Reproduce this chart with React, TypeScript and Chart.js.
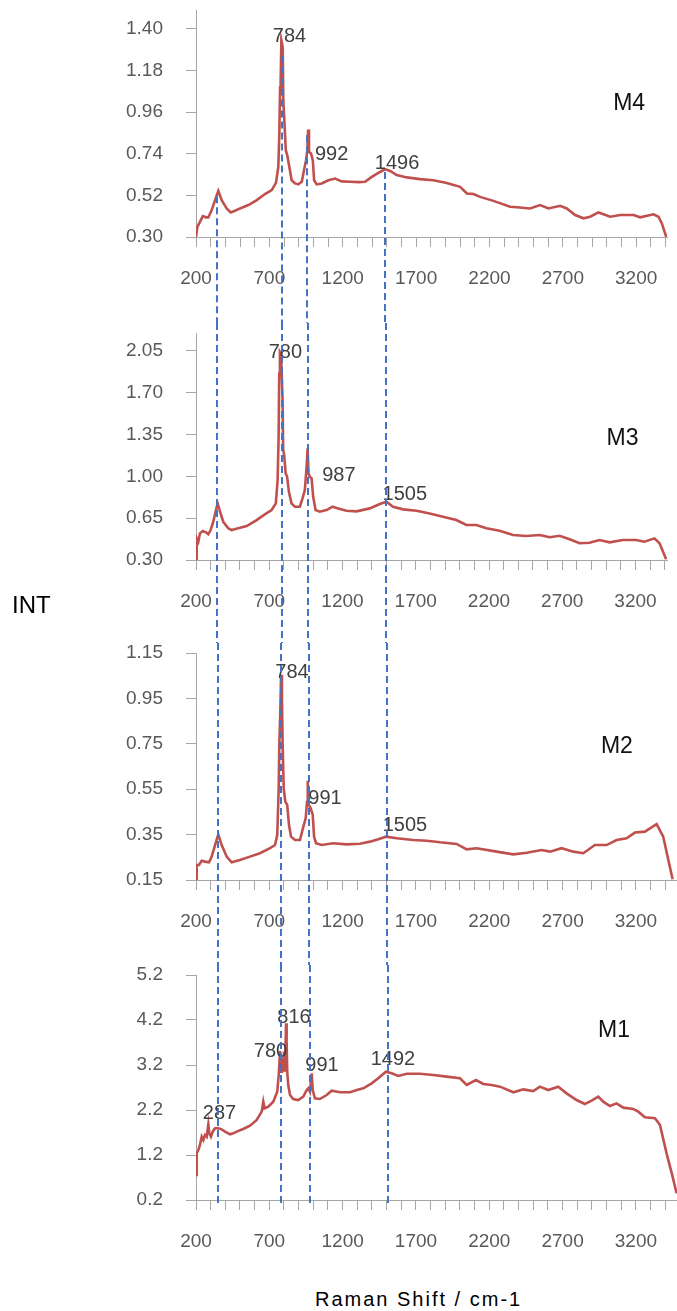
import { useEffect, useRef } from 'react';
import { Chart, registerables } from 'chart.js';

Chart.register(...registerables);

// ---------------- data ----------------
const xTickFirst = 200;
const xTickLast = 3400;
const xTickStep = 100;
const xTickLabels = ['200', '700', '1200', '1700', '2200', '2700', '3200'];

// M4
const m4Shift = [200, 209, 222, 246, 268, 284, 307, 330, 352, 375, 409, 437, 466, 500, 557, 614, 670, 716, 745, 761, 768, 773, 777, 782, 791, 795, 802, 812, 822, 836, 852, 875, 897, 921, 936, 950, 959, 964, 970, 984, 996, 1005, 1023, 1057, 1102, 1148, 1193, 1250, 1307, 1352, 1398, 1443, 1489, 1523, 1568, 1637, 1727, 1818, 1909, 2000, 2046, 2091, 2136, 2227, 2341, 2387, 2477, 2545, 2602, 2682, 2727, 2784, 2841, 2886, 2943, 3023, 3091, 3182, 3227, 3318, 3352, 3375, 3405];
const m4Int = [0.30, 0.354, 0.372, 0.41, 0.404, 0.404, 0.442, 0.495, 0.544, 0.495, 0.451, 0.43, 0.439, 0.451, 0.469, 0.495, 0.527, 0.548, 0.586, 0.671, 0.847, 1.092, 1.128, 1.339, 1.303, 1.022, 0.917, 0.759, 0.732, 0.671, 0.60, 0.583, 0.578, 0.592, 0.653, 0.706, 0.759, 0.868, 0.75, 0.741, 0.706, 0.60, 0.578, 0.583, 0.60, 0.609, 0.594, 0.592, 0.59, 0.592, 0.618, 0.639, 0.658, 0.649, 0.627, 0.615, 0.606, 0.60, 0.586, 0.565, 0.53, 0.527, 0.512, 0.491, 0.46, 0.457, 0.451, 0.469, 0.451, 0.465, 0.451, 0.416, 0.399, 0.407, 0.43, 0.407, 0.416, 0.416, 0.404, 0.42, 0.407, 0.372, 0.30];
const m4YTicks = ['0.30', '0.52', '0.74', '0.96', '1.18', '1.40'];
const m4YRange = [0.30, 1.50];
const m4XMax = 3410;
const m4PeakText = ['784', '992', '1496'];
const m4PeakX = [837, 1124, 1570];
const m4PeakY = [1.36, 0.735, 0.69];
const m4Name = 'M4';
const m4NameAt = [3152, 1.006];
const m4Guides = [341, 788, 955, 1487];
const m4GuideFrom = [0.516, 1.26, 0.838, 0.644];

// M3
const m3Shift = [200, 205, 216, 227, 246, 268, 284, 300, 318, 336, 348, 364, 386, 420, 443, 488, 546, 614, 670, 716, 745, 757, 764, 768, 773, 780, 786, 791, 795, 802, 812, 822, 834, 852, 875, 909, 927, 943, 955, 962, 968, 977, 989, 1000, 1016, 1045, 1091, 1132, 1170, 1227, 1296, 1386, 1455, 1500, 1545, 1614, 1705, 1795, 1886, 1977, 2046, 2114, 2182, 2273, 2364, 2455, 2545, 2614, 2682, 2750, 2818, 2886, 2955, 3023, 3113, 3205, 3261, 3330, 3364, 3409];
const m3Int = [0.30, 0.481, 0.453, 0.523, 0.542, 0.532, 0.515, 0.551, 0.62, 0.718, 0.774, 0.704, 0.62, 0.565, 0.551, 0.565, 0.584, 0.634, 0.682, 0.718, 0.774, 0.969, 1.331, 1.861, 2.042, 2.028, 1.833, 1.638, 1.22, 1.178, 1.025, 0.997, 0.871, 0.774, 0.746, 0.746, 0.816, 0.885, 1.08, 1.234, 1.025, 0.997, 0.983, 0.829, 0.718, 0.704, 0.718, 0.746, 0.732, 0.712, 0.707, 0.732, 0.768, 0.787, 0.746, 0.724, 0.712, 0.69, 0.662, 0.634, 0.593, 0.593, 0.565, 0.545, 0.509, 0.501, 0.509, 0.49, 0.503, 0.473, 0.44, 0.445, 0.467, 0.448, 0.467, 0.467, 0.453, 0.481, 0.44, 0.306];
const m3YTicks = ['0.30', '0.65', '1.00', '1.35', '1.70', '2.05'];
const m3YRange = [0.30, 2.20];
const m3XMax = 3415;
const m3PeakText = ['780', '987', '1505'];
const m3PeakX = [810, 1175, 1625];
const m3PeakY = [2.039, 1.007, 0.852];
const m3Name = 'M3';
const m3NameAt = [3111, 1.314];
const m3Guides = [345, 786, 962, 1495];

// M2
const m2Shift = [200, 205, 220, 239, 261, 289, 307, 330, 352, 375, 409, 443, 500, 568, 636, 705, 739, 754, 764, 768, 775, 780, 786, 791, 798, 809, 822, 834, 848, 875, 909, 932, 948, 957, 962, 968, 982, 996, 1005, 1018, 1057, 1136, 1227, 1318, 1386, 1443, 1495, 1568, 1682, 1773, 1864, 1977, 2046, 2114, 2250, 2364, 2455, 2557, 2614, 2693, 2773, 2841, 2920, 3000, 3068, 3136, 3193, 3261, 3341, 3386, 3450];
const m2Int = [0.15, 0.216, 0.216, 0.235, 0.231, 0.228, 0.253, 0.304, 0.351, 0.304, 0.253, 0.228, 0.238, 0.253, 0.268, 0.29, 0.304, 0.349, 0.554, 0.745, 0.892, 1.054, 0.951, 0.745, 0.554, 0.495, 0.481, 0.393, 0.341, 0.326, 0.326, 0.385, 0.422, 0.495, 0.587, 0.481, 0.466, 0.437, 0.341, 0.312, 0.304, 0.312, 0.307, 0.31, 0.319, 0.33, 0.341, 0.334, 0.326, 0.323, 0.316, 0.309, 0.285, 0.29, 0.275, 0.263, 0.27, 0.282, 0.275, 0.29, 0.275, 0.268, 0.304, 0.304, 0.326, 0.334, 0.359, 0.363, 0.396, 0.341, 0.153];
const m2YTicks = ['0.15', '0.35', '0.55', '0.75', '0.95', '1.15'];
const m2YRange = [0.15, 1.15];
const m2XMax = 3480;
const m2PeakText = ['784', '991', '1505'];
const m2PeakX = [855, 1080, 1625];
const m2PeakY = [1.063, 0.507, 0.388];
const m2Name = 'M2';
const m2NameAt = [3070, 0.738];
const m2Guides = [350, 780, 970, 1502];

// M1
const m1Shift = [200, 205, 216, 227, 239, 250, 261, 273, 284, 291, 302, 314, 330, 352, 375, 398, 432, 454, 477, 522, 568, 614, 648, 659, 668, 693, 727, 754, 764, 768, 773, 780, 786, 793, 800, 807, 814, 818, 822, 829, 841, 863, 897, 932, 955, 966, 977, 989, 996, 1011, 1045, 1091, 1125, 1182, 1250, 1296, 1341, 1398, 1443, 1495, 1534, 1579, 1637, 1727, 1818, 1909, 2000, 2046, 2109, 2159, 2216, 2273, 2364, 2432, 2500, 2545, 2602, 2670, 2727, 2795, 2852, 2898, 2943, 2977, 3023, 3068, 3114, 3182, 3216, 3261, 3330, 3364, 3409, 3450, 3477];
const m1Int = [0.756, 1.238, 1.311, 1.422, 1.607, 1.533, 1.644, 1.607, 1.881, 1.681, 1.607, 1.719, 1.793, 1.793, 1.770, 1.719, 1.659, 1.681, 1.719, 1.778, 1.852, 1.978, 2.163, 2.385, 2.237, 2.274, 2.385, 2.607, 2.978, 3.2, 3.511, 3.052, 3.348, 3.052, 3.496, 3.052, 4.126, 3.719, 3.052, 2.756, 2.533, 2.444, 2.422, 2.496, 2.644, 2.681, 2.607, 3.015, 2.644, 2.459, 2.444, 2.533, 2.630, 2.593, 2.593, 2.644, 2.681, 2.793, 2.904, 3.052, 3.015, 2.956, 3.007, 3.007, 2.978, 2.941, 2.904, 2.756, 2.867, 2.778, 2.756, 2.719, 2.593, 2.659, 2.622, 2.719, 2.644, 2.719, 2.570, 2.422, 2.333, 2.407, 2.496, 2.385, 2.289, 2.348, 2.252, 2.222, 2.163, 2.037, 2.015, 1.867, 1.237, 0.719, 0.349];
const m1YTicks = ['0.2', '1.2', '2.2', '3.2', '4.2', '5.2'];
const m1YRange = [0.2, 5.2];
const m1XMax = 3480;
const m1PeakText = ['287', '780', '816', '991', '1492'];
const m1PeakX = [360, 708, 868, 1059, 1543];
const m1PeakY = [2.122, 3.511, 4.256, 3.2, 3.322];
const m1Name = 'M1';
const m1NameAt = [3050, 3.956];
const m1Guides = [352, 777, 977, 1511];

const yTitle = 'INT';
const xTitle = 'Raman Shift / cm-1';

// ---------------- styles / layout ----------------
const W = 677;
const FONT = "'Liberation Sans', Arial, Helvetica, sans-serif";
const RED = '#C0504D';
const BLUE = '#4472C4';
const AXIS = '#A6A6A6';
const TICK_TEXT = '#595959';
const PEAK_TEXT = '#404040';
const Y_AXIS_W = 196;

type Box = { top: number; h: number; padTop: number; xAxisH: number; padRight: number };

type PanelDef = {
  shift: number[];
  int: number[];
  yTicks: string[];
  yRange: number[];
  xMax: number;
  peakText: string[];
  peakX: number[];
  peakY: number[];
  name: string;
  nameAt: number[];
  guides: number[];
  guideFrom: number[] | null;
  guideToAxis: boolean;
  box: Box;
};

const panels: PanelDef[] = [
  { shift: m4Shift, int: m4Int, yTicks: m4YTicks, yRange: m4YRange, xMax: m4XMax, peakText: m4PeakText, peakX: m4PeakX, peakY: m4PeakY, name: m4Name, nameAt: m4NameAt, guides: m4Guides, guideFrom: m4GuideFrom, guideToAxis: false, box: { top: 0, h: 323, padTop: 10, xAxisH: 86, padRight: 10 } },
  { shift: m3Shift, int: m3Int, yTicks: m3YTicks, yRange: m3YRange, xMax: m3XMax, peakText: m3PeakText, peakX: m3PeakX, peakY: m3PeakY, name: m3Name, nameAt: m3NameAt, guides: m3Guides, guideFrom: null, guideToAxis: false, box: { top: 323, h: 320, padTop: 10, xAxisH: 83, padRight: 10 } },
  { shift: m2Shift, int: m2Int, yTicks: m2YTicks, yRange: m2YRange, xMax: m2XMax, peakText: m2PeakText, peakX: m2PeakX, peakY: m2PeakY, name: m2Name, nameAt: m2NameAt, guides: m2Guides, guideFrom: null, guideToAxis: false, box: { top: 643, h: 322, padTop: 10, xAxisH: 85, padRight: 0 } },
  { shift: m1Shift, int: m1Int, yTicks: m1YTicks, yRange: m1YRange, xMax: m1XMax, peakText: m1PeakText, peakX: m1PeakX, peakY: m1PeakY, name: m1Name, nameAt: m1NameAt, guides: m1Guides, guideFrom: null, guideToAxis: true, box: { top: 965, h: 300, padTop: 10, xAxisH: 65, padRight: 0 } },
];

function xTickValues(): number[] {
  const out: number[] = [];
  for (let v = xTickFirst; v <= xTickLast; v += xTickStep) out.push(v);
  return out;
}

function buildConfig(p: PanelDef): any {
  const xTicks = xTickValues();
  const yVals = p.yTicks.map((t) => parseFloat(t));

  const labelPlugin = {
    id: 'peakLabels',
    afterDatasetsDraw(chart: any) {
      const { ctx } = chart;
      const sx = chart.scales.x;
      const sy = chart.scales.y;
      ctx.save();
      ctx.textAlign = 'center';
      ctx.textBaseline = 'middle';
      ctx.font = `20px ${FONT}`;
      ctx.fillStyle = PEAK_TEXT;
      p.peakText.forEach((t, i) => {
        ctx.fillText(t, sx.getPixelForValue(p.peakX[i]), sy.getPixelForValue(p.peakY[i]));
      });
      ctx.font = `23px ${FONT}`;
      ctx.fillStyle = '#111111';
      ctx.fillText(p.name, sx.getPixelForValue(p.nameAt[0]), sy.getPixelForValue(p.nameAt[1]));
      ctx.restore();
    },
  };

  const guidePlugin = {
    id: 'guides',
    afterDraw(chart: any) {
      const { ctx, chartArea } = chart;
      const sx = chart.scales.x;
      const sy = chart.scales.y;
      ctx.save();
      ctx.strokeStyle = BLUE;
      ctx.lineWidth = 2;
      ctx.setLineDash([7, 4]);
      p.guides.forEach((g, i) => {
        const px = Math.round(sx.getPixelForValue(g));
        const y0 = p.guideFrom ? sy.getPixelForValue(p.guideFrom[i]) : 0;
        const y1 = p.guideToAxis ? chartArea.bottom + 3 : chart.height;
        ctx.beginPath();
        ctx.moveTo(px, y0);
        ctx.lineTo(px, y1);
        ctx.stroke();
      });
      ctx.restore();
    },
  };

  return {
    type: 'line',
    data: {
      datasets: [
        {
          data: p.shift.map((x, i) => ({ x, y: p.int[i] })),
          borderColor: RED,
          borderWidth: 2.6,
          pointRadius: 0,
          tension: 0,
          fill: false,
        },
      ],
    },
    options: {
      responsive: false,
      maintainAspectRatio: false,
      animation: false,
      devicePixelRatio: 1,
      events: [],
      layout: { padding: { top: p.box.padTop, right: p.box.padRight, left: 0, bottom: 0 } },
      plugins: { legend: { display: false }, tooltip: { enabled: false }, title: { display: false } },
      scales: {
        x: {
          type: 'linear',
          min: xTickFirst,
          max: p.xMax,
          afterBuildTicks: (s: any) => {
            s.ticks = xTicks.map((v) => ({ value: v }));
          },
          afterFit: (s: any) => {
            s.height = p.box.xAxisH;
            s.paddingLeft = 0;
            s.paddingRight = 0;
          },
          ticks: {
            autoSkip: false,
            maxRotation: 0,
            minRotation: 0,
            padding: 20,
            color: TICK_TEXT,
            font: { family: FONT, size: 19 },
            callback: (v: number) => (xTickLabels.includes(String(v)) ? String(v) : ''),
          },
          grid: { display: true, drawOnChartArea: false, drawTicks: true, tickLength: 10, color: AXIS, lineWidth: 1 },
          border: { display: true, color: AXIS, width: 1 },
        },
        y: {
          type: 'linear',
          min: p.yRange[0],
          max: p.yRange[1],
          afterBuildTicks: (s: any) => {
            s.ticks = yVals.map((v) => ({ value: v }));
          },
          afterFit: (s: any) => {
            s.width = Y_AXIS_W;
            s.paddingTop = 0;
            s.paddingBottom = 0;
          },
          ticks: {
            padding: 23,
            color: TICK_TEXT,
            font: { family: FONT, size: 19 },
            callback: (_v: number, i: number) => p.yTicks[i],
          },
          grid: { display: true, drawOnChartArea: false, drawTicks: true, tickLength: 10, color: AXIS, lineWidth: 1 },
          border: { display: true, color: AXIS, width: 1 },
        },
      },
    },
    plugins: [labelPlugin, guidePlugin],
  };
}

function SpectrumPanel({ p }: { p: PanelDef }) {
  const ref = useRef<HTMLCanvasElement | null>(null);
  useEffect(() => {
    const canvas = ref.current;
    if (!canvas) return;
    const chart = new Chart(canvas, buildConfig(p));
    return () => chart.destroy();
  }, [p]);
  return (
    <canvas
      ref={ref}
      width={W}
      height={p.box.h}
      style={{ position: 'absolute', left: 0, top: p.box.top, width: W, height: p.box.h, display: 'block' }}
    />
  );
}

export default function App() {
  return (
    <div style={{ position: 'absolute', left: 0, top: 0, width: W, height: 1311, background: '#ffffff', overflow: 'hidden' }}>
      {panels.map((p) => (
        <SpectrumPanel key={p.name} p={p} />
      ))}
      <div style={{ position: 'absolute', left: 12, top: 593, fontFamily: FONT, fontSize: 24, lineHeight: '24px', color: '#000', whiteSpace: 'nowrap' }}>{yTitle}</div>
      <div style={{ position: 'absolute', left: 315, top: 1289, fontFamily: FONT, fontSize: 20, lineHeight: '20px', letterSpacing: '2px', color: '#000', whiteSpace: 'nowrap' }}>{xTitle}</div>
    </div>
  );
}
